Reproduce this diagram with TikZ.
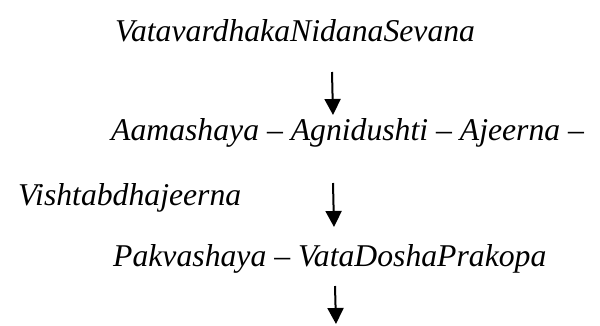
\documentclass[tikz,border=0pt]{standalone}
\usepackage{fontspec}
\setmainfont{Liberation Serif}
\usetikzlibrary{arrows.meta}

\begin{document}
\begin{tikzpicture}[
  x=1pt, y=-1pt,
  >={Triangle[length=16pt,width=16pt]},
  stage/.style={anchor=base west, inner sep=0pt, font=\fontsize{31.7}{38}\selectfont\itshape},
  flow/.style={->, line width=2pt}
]
\useasboundingbox (0,0) rectangle (600,325);

\node[stage] (nidana) at (115,41) {VatavardhakaNidanaSevana};
\node[stage] (aamashaya) at (111,140) {Aamashaya -- Agnidushti -- Ajeerna --};
\node[stage] (vishtabdha) at (18,205) {Vishtabdhajeerna};
\node[stage] (pakvashaya) at (113,266) {Pakvashaya -- VataDoshaPrakopa};

% arrow ends
\coordinate (a1s) at (332,72);
\coordinate (a1e) at (333,115);
\coordinate (a2s) at (333,183);
\coordinate (a2e) at (334,227);
\coordinate (a3s) at (335,286);
\coordinate (a3e) at (336,324);

\draw[flow] (a1s) -- (a1e);
\draw[flow] (a2s) -- (a2e);
\draw[flow] (a3s) -- (a3e);

\end{tikzpicture}
\end{document}
